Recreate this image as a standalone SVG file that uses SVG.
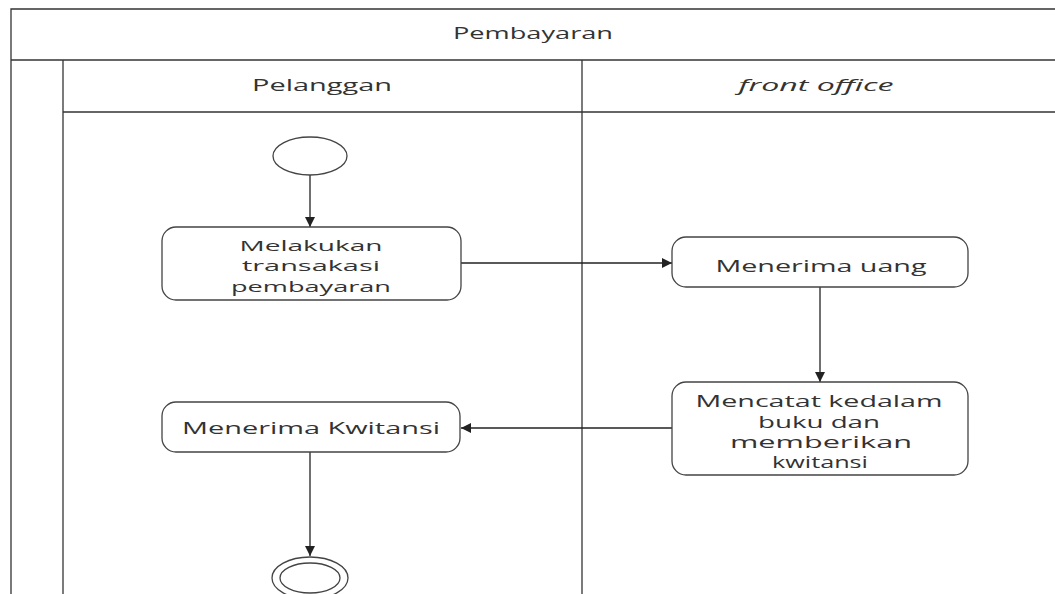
<svg xmlns="http://www.w3.org/2000/svg" width="1055" height="594" viewBox="0 0 1055 594">
  <style>
    .frame { fill: none; stroke: #333; stroke-width: 1.3; }
    .act { fill: #fff; stroke: #444; stroke-width: 1.3; }
    .node { fill: #fff; stroke: #444; stroke-width: 1.3; }
    .flow { fill: none; stroke: #222; stroke-width: 1.3; }
    .hdr { font-family: "Open Sans", "Liberation Sans", sans-serif; font-size: 16px; fill: #333; text-anchor: middle; }
    .lbl { font-family: "Open Sans", "Liberation Sans", sans-serif; font-size: 16px; fill: #333; text-anchor: middle; }
    .tight { font-size: 15px; }
  </style>
  <defs>
    <marker id="arrow" viewBox="0 0 10 10" refX="10" refY="5" markerWidth="10" markerHeight="10" markerUnits="userSpaceOnUse" orient="auto">
      <path d="M0,0 L10,5 L0,10 z" fill="#222"/>
    </marker>
  </defs>

  <rect width="1055" height="594" fill="#fff"/>

  <!-- swimlane frame -->
  <g id="swimlanes">
    <path class="frame" d="M1055,9 H11 V594"/>
    <path class="frame" d="M11,60 H1055"/>
    <path class="frame" d="M63,60 V594"/>
    <path class="frame" d="M63,112 H1055"/>
    <path class="frame" d="M582,60 V594"/>
    <text class="hdr" x="533" y="39" textLength="160" lengthAdjust="spacingAndGlyphs">Pembayaran</text>
    <text class="hdr" x="322" y="91" textLength="140" lengthAdjust="spacingAndGlyphs">Pelanggan</text>
    <text class="hdr" x="816" y="91" font-style="italic" textLength="155" lengthAdjust="spacingAndGlyphs">front office</text>
  </g>

  <!-- connectors -->
  <g id="connectors">
    <path class="flow" d="M310,175 V227" marker-end="url(#arrow)"/>
    <path class="flow" d="M461,263 H672" marker-end="url(#arrow)"/>
    <path class="flow" d="M820,287 V382" marker-end="url(#arrow)"/>
    <path class="flow" d="M672,428 H461" marker-end="url(#arrow)"/>
    <path class="flow" d="M310,452 V556" marker-end="url(#arrow)"/>
  </g>

  <g id="start">
    <ellipse class="node" cx="310" cy="156" rx="37" ry="19"/>
  </g>

  <g id="melakukan-transaksi">
    <rect class="act" x="162" y="227" width="299" height="73" rx="14"/>
    <text class="lbl tight" x="311" y="251" textLength="143" lengthAdjust="spacingAndGlyphs">Melakukan</text>
    <text class="lbl tight" x="311" y="271" textLength="138" lengthAdjust="spacingAndGlyphs">transakasi</text>
    <text class="lbl tight" x="311" y="292" textLength="160" lengthAdjust="spacingAndGlyphs">pembayaran</text>
  </g>

  <g id="menerima-uang">
    <rect class="act" x="672" y="237" width="296" height="50" rx="14"/>
    <text class="lbl" x="821" y="272" textLength="211" lengthAdjust="spacingAndGlyphs">Menerima uang</text>
  </g>

  <g id="mencatat">
    <rect class="act" x="672" y="382" width="296" height="93" rx="14"/>
    <text class="lbl" x="819" y="407" textLength="247" lengthAdjust="spacingAndGlyphs">Mencatat kedalam</text>
    <text class="lbl" x="819" y="428" textLength="122" lengthAdjust="spacingAndGlyphs">buku dan</text>
    <text class="lbl" x="821" y="448" textLength="182" lengthAdjust="spacingAndGlyphs">memberikan</text>
    <text class="lbl" x="820" y="468" textLength="96" lengthAdjust="spacingAndGlyphs">kwitansi</text>
  </g>

  <g id="menerima-kwitansi">
    <rect class="act" x="162" y="402" width="298" height="50" rx="14"/>
    <text class="lbl" x="311" y="434" textLength="258" lengthAdjust="spacingAndGlyphs">Menerima Kwitansi</text>
  </g>

  <g id="end">
    <ellipse class="node" cx="310" cy="578" rx="38" ry="21"/>
    <ellipse class="node" cx="310" cy="578" rx="30" ry="15"/>
  </g>
</svg>
